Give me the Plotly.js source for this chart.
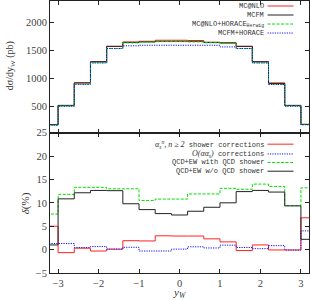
<!DOCTYPE html>
<html>
<head>
<meta charset="utf-8">
<script src="https://cdn.plot.ly/plotly-3.0.1.min.js"></script>
<style>html,body{margin:0;padding:0;background:#fff;}#chart{width:311px;height:300px;}</style>
</head>
<body>
<div id="chart"></div>
<script>
// Bin edges in y_W (17 bins)
var binEdges = [-3.4,-3.0,-2.6,-2.2,-1.8,-1.4,-1.0,-0.6,-0.2,0.2,0.6,1.0,1.4,1.8,2.2,2.6,3.0,3.4];

// Upper panel: dsigma/dy_W (pb)
var mcnlo      = [172, 512, 922, 1300, 1572, 1655, 1667, 1685, 1685, 1680, 1650, 1637, 1572, 1300, 920, 512, 175];
var mcfm       = [170, 515, 918, 1298, 1577, 1645, 1655, 1665, 1665, 1665, 1645, 1637, 1577, 1298, 908, 515, 172];
var mcnloHor   = [160, 503, 895, 1280, 1536, 1637, 1650, 1660, 1660, 1655, 1640, 1625, 1536, 1280, 893, 503, 176];
var mcfmHor    = [160, 500, 893, 1278, 1536, 1585, 1595, 1595, 1595, 1595, 1595, 1565, 1536, 1278, 890, 500, 165];

// Lower panel: delta (%)
var showerCorr = [5.0, -0.65, 0.3, -0.3, 0.1, 1.9, 1.85, 2.95, 2.9, 2.9, 2.3, 1.65, -0.2, 1.0, -0.07, -0.07, 6.8];
var ewCorr     = [1.3, 1.3, 0.45, 0.65, 0.1, 0.5, -0.3, -0.3, 0.1, 0.6, 0.35, 0.95, 0.45, 0.2, 0.85, -0.1, 4.0];
var withShower = [7.6, 11.8, 13.3, 13.3, 13.0, 13.0, 10.5, 10.8, 10.8, 11.9, 11.9, 13.1, 12.9, 14.0, 13.5, 9.4, 13.2];
var woShower   = [1.0, 10.85, 12.15, 12.65, 12.6, 9.8, 8.55, 7.7, 7.4, 8.2, 9.05, 10.0, 12.4, 12.65, 12.3, 9.35, 2.2];

var xTicks = [-3,-2,-1,0,1,2,3];
var yTopTicks = [25,500,1000,1500,2000];
var yBotTicks = [-5,0,5,10,15,20];

var topNames = ['MC@NLO','MCFM','MC@NLO+HORACE<sub>Herwig</sub>','MCFM+HORACE'];
var botNames = [
  '<span style="font-family:\'Liberation Serif\';font-style:italic;font-size:8px">α<sub>s</sub><sup>n</sup>, n ≥ 2</span> shower corrections',
  '<span style="font-family:\'Liberation Serif\';font-style:italic;font-size:8px">O(αα<sub>s</sub>)</span> corrections',
  'QCD+EW with QCD shower',
  'QCD+EW w/o QCD shower'
];

var styles = [
  {color:'#ff2020', width:1, dash:'solid'},
  {color:'#222222', width:1, dash:'solid'},
  {color:'#00e000', width:1, dash:'3px,1.5px'},
  {color:'#1010ff', width:1, dash:'1.2px,1.2px'}
];
var botStyles = [styles[0], styles[3], styles[2], styles[1]];

function stepY(v){ return v.concat([v[v.length-1]]); }

var topSeries = [mcnlo, mcfm, mcnloHor, mcfmHor];
var botSeries = [showerCorr, ewCorr, withShower, woShower];
var traces = [];
topSeries.forEach(function(s,i){
  traces.push({x: binEdges, y: stepY(s), xaxis:'x', yaxis:'y', mode:'lines',
    line:{shape:'hv', color:styles[i].color, width:styles[i].width, dash:styles[i].dash}, showlegend:false, hoverinfo:'skip'});
});
botSeries.forEach(function(s,i){
  traces.push({x: binEdges, y: stepY(s), xaxis:'x2', yaxis:'y2', mode:'lines',
    line:{shape:'hv', color:botStyles[i].color, width:botStyles[i].width, dash:botStyles[i].dash}, showlegend:false, hoverinfo:'skip'});
});

// pixel -> paper helpers
var L=50, R=309.5, T=1, B=272.7;
function px(x){ return (x-L)/(R-L); }
function py(y){ return (B-y)/(B-T); }

var annotations = [], shapes = [];
var monoFont = {family:'Liberation Mono, Courier New, monospace', size:7, color:'#333'};
function addLegend(names, sty, rows){
  names.forEach(function(n,i){
    annotations.push({xref:'paper', yref:'paper', x:px(265), y:py(rows[i]), xanchor:'right', yanchor:'middle',
      text:n, showarrow:false, font:monoFont, borderpad:0});
    shapes.push({type:'line', xref:'paper', yref:'paper', x0:px(268), x1:px(294), y0:py(rows[i]), y1:py(rows[i]),
      line:{color:sty[i].color, width:sty[i].width, dash:sty[i].dash}});
  });
}
addLegend(topNames, styles, [6,15,24,33]);
addLegend(botNames, botStyles, [144,153.8,162.3,171]);

var serif = 'Liberation Serif, Times New Roman, serif';
annotations.push({xref:'paper', yref:'paper', x:px(10), y:py(66), text:'dσ/dy<sub>W</sub> (pb)', textangle:-90,
  showarrow:false, xanchor:'center', yanchor:'middle', font:{family:serif, size:10, color:'#333'}});
annotations.push({xref:'paper', yref:'paper', x:px(25), y:py(203), text:'<i>δ</i>(%)', textangle:-90,
  showarrow:false, xanchor:'center', yanchor:'middle', font:{family:serif, size:11, color:'#333'}});
annotations.push({xref:'paper', yref:'paper', x:px(180), y:py(292.5), text:'<i>y<sub>W</sub></i>',
  showarrow:false, xanchor:'center', yanchor:'middle', font:{family:serif, size:11, color:'#333'}, borderpad:0});

var axCommon = {showline:true, linecolor:'#222', linewidth:1, mirror:'ticks', ticks:'inside', ticklen:4,
  tickcolor:'#222', tickwidth:1, showgrid:false, zeroline:false, fixedrange:true,
  tickfont:{family:serif, size:10.5, color:'#444'}};

var layout = {
  width:311, height:300,
  margin:{l:L, r:311-R, t:T, b:300-B},
  paper_bgcolor:'#fff', plot_bgcolor:'#fff',
  showlegend:false,
  xaxis: Object.assign({}, axCommon, {domain:[0,1], anchor:'y', range:[-3.2,3.2], tickvals:xTicks, showticklabels:false}),
  yaxis: Object.assign({}, axCommon, {domain:[0.516,1], anchor:'x', range:[25,2390], tickvals:yTopTicks}),
  xaxis2: Object.assign({}, axCommon, {domain:[0,1], anchor:'y2', range:[-3.2,3.2], tickvals:xTicks}),
  yaxis2: Object.assign({}, axCommon, {domain:[0,0.516], anchor:'x2', range:[-5,25], tickvals:yBotTicks}),
  annotations: annotations,
  shapes: shapes
};

Plotly.newPlot('chart', traces, layout, {staticPlot:true, displayModeBar:false});
</script>
</body>
</html>
